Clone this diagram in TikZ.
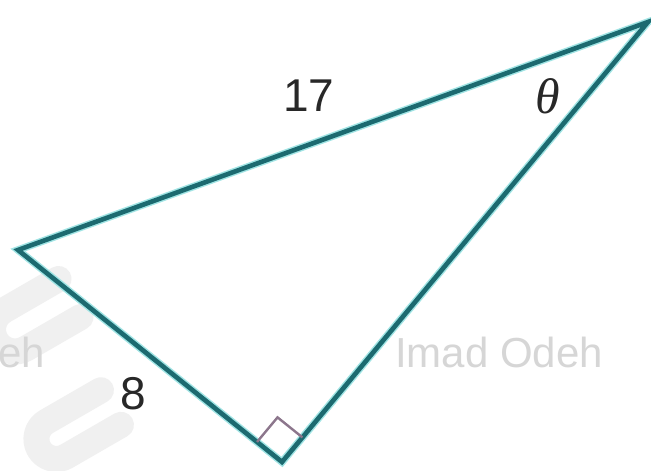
\documentclass[tikz,border=0pt]{standalone}
\usepackage{fontspec}
\setmainfont{Liberation Sans}
\newfontfamily\thetafont{Liberation Serif}
\usetikzlibrary{calc}
\definecolor{edgecol}{RGB}{28,106,112}
\definecolor{halocol}{RGB}{160,228,228}
\definecolor{markcol}{RGB}{140,118,140}
\definecolor{labelcol}{RGB}{40,40,40}
\definecolor{wmcol}{RGB}{214,214,214}
\definecolor{logocol}{RGB}{240,240,240}
\tikzset{
  edgehalo/.style={draw=halocol, line width=7.5pt, line join=miter},
  edge/.style={draw=edgecol, line width=4.6pt, line join=miter},
  rightmark/.style={draw=markcol, line width=2.4pt},
  lbl/.style={text=labelcol, inner sep=0pt, font=\fontsize{46}{50}\selectfont},
  thlbl/.style={text=labelcol, inner sep=0pt, font=\thetafont\itshape\fontsize{50}{54}\selectfont},
  wm/.style={text=wmcol, inner sep=0pt, font=\fontsize{42}{46}\selectfont},
  logo/.style={draw=logocol, line width=26pt, line cap=round, line join=round}
}
\begin{document}
\begin{tikzpicture}[x=1pt,y=-1pt]
\useasboundingbox (0,0) rectangle (651,471);
\fill[white] (0,0) rectangle (651,471);
\clip (0,0) rectangle (651,471);
% faint watermark logo
\begin{scope}[shift={(28,322)},rotate=30]
  \draw[logo] (48,-22) -- (-15,-22) arc(270:90:22) -- (48,22);
\end{scope}
\begin{scope}[shift={(72,430)},rotate=30]
  \draw[logo] (45,-20) -- (-18,-20) arc(270:90:20) -- (45,20);
\end{scope}
% watermark text
\node[wm, anchor=base west] (wm1) at (395,367) {Imad Odeh};
\node[wm, anchor=base east] (wm2) at (45,367) {Imad Odeh};
% triangle
\coordinate (L) at (18,250);
\coordinate (T) at (648,22);
\coordinate (B) at (282,462);
\draw[edgehalo] (L) -- (T) -- (B) -- cycle;
\draw[edge] (L) -- (T) -- (B) -- cycle;
% right angle mark
\coordinate (P1) at ($(B)!32pt!(L)$);
\coordinate (P2) at ($(B)!32pt!(T)$);
\coordinate (P3) at ($(P1)+(P2)-(B)$);
\draw[rightmark] (P1) -- (P3) -- (P2);
% labels
\node[lbl] (l17) at (309,96) {17};
\node[thlbl] (lth) at (548,96) {θ};
\node[lbl] (l8) at (133,394) {8};
\end{tikzpicture}
\end{document}
